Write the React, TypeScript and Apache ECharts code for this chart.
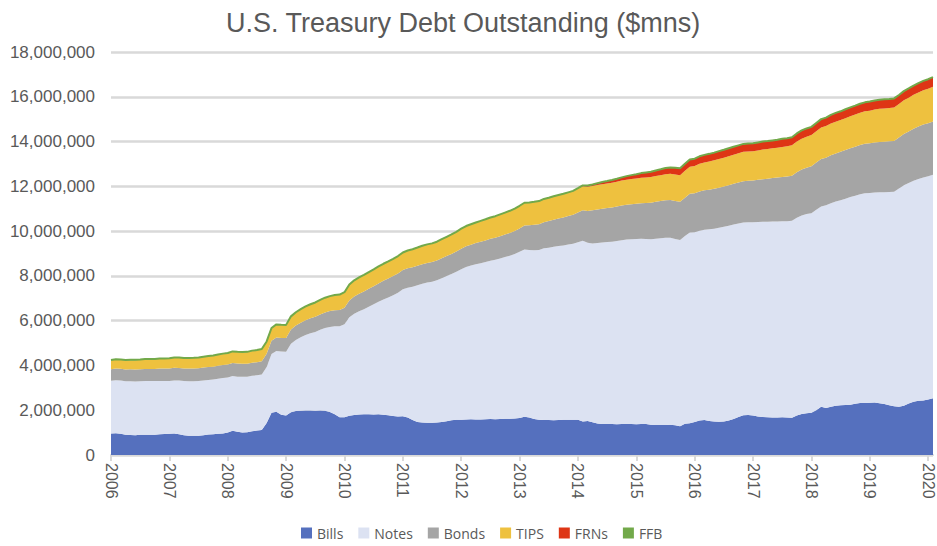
import React, { useEffect, useRef } from "react";
import * as echarts from "echarts";

// Tick labels (one per year); data are monthly from Jan 2006 to Feb 2020
const YEARS = ["2006", "2007", "2008", "2009", "2010", "2011", "2012", "2013", "2014", "2015", "2016", "2017", "2018", "2019", "2020"];
const MONTHS_IN_LAST_YEAR = 2;

const Y_MIN = 0;
const Y_MAX = 18000000;
const Y_STEP = 2000000;

// Values in $bn (×1000 = $mns), one row per year
const BILLS = [
  [955, 970, 945, 900, 895, 885, 905, 905, 900, 905, 925, 940],
  [950, 960, 930, 880, 860, 855, 865, 880, 920, 930, 945, 960],
  [1010, 1085, 1040, 1010, 1020, 1060, 1090, 1120, 1430, 1890, 1930, 1800],
  [1760, 1910, 1960, 1980, 1990, 1985, 1975, 1990, 1980, 1920, 1820, 1690],
  [1690, 1750, 1790, 1810, 1815, 1815, 1810, 1815, 1800, 1770, 1740, 1720],
  [1730, 1680, 1560, 1470, 1450, 1445, 1440, 1450, 1470, 1510, 1550, 1570],
  [1580, 1590, 1600, 1590, 1590, 1600, 1610, 1600, 1610, 1620, 1620, 1630],
  [1650, 1710, 1680, 1610, 1570, 1560, 1560, 1555, 1560, 1570, 1570, 1580],
  [1570, 1500, 1520, 1460, 1410, 1390, 1380, 1380, 1370, 1380, 1390, 1380],
  [1370, 1390, 1380, 1350, 1340, 1345, 1345, 1350, 1330, 1280, 1400, 1420],
  [1470, 1540, 1560, 1520, 1500, 1490, 1500, 1540, 1610, 1700, 1780, 1790],
  [1760, 1720, 1700, 1690, 1680, 1680, 1690, 1680, 1660, 1760, 1830, 1860],
  [1890, 2000, 2150, 2100, 2150, 2200, 2220, 2230, 2240, 2290, 2320, 2320],
  [2330, 2340, 2310, 2280, 2220, 2180, 2150, 2200, 2300, 2380, 2420, 2430],
  [2480, 2530],
];

const NOTES = [
  [2360, 2365, 2380, 2390, 2395, 2400, 2390, 2395, 2400, 2395, 2385, 2370],
  [2360, 2370, 2395, 2420, 2430, 2440, 2440, 2450, 2430, 2440, 2460, 2480],
  [2450, 2440, 2460, 2480, 2470, 2480, 2470, 2480, 2500, 2620, 2720, 2820],
  [2850, 3060, 3180, 3280, 3370, 3450, 3520, 3600, 3690, 3800, 3930, 4060],
  [4150, 4400, 4520, 4610, 4700, 4810, 4920, 5030, 5150, 5270, 5400, 5530],
  [5670, 5790, 5960, 6110, 6200, 6255, 6300, 6350, 6430, 6480, 6530, 6610],
  [6720, 6810, 6860, 6930, 6980, 7020, 7070, 7120, 7170, 7220, 7280, 7350],
  [7430, 7470, 7480, 7540, 7590, 7670, 7700, 7745, 7770, 7790, 7830, 7860],
  [7930, 8070, 7960, 7990, 8060, 8100, 8130, 8150, 8190, 8210, 8230, 8260],
  [8280, 8270, 8270, 8290, 8320, 8335, 8355, 8350, 8320, 8320, 8380, 8520],
  [8480, 8480, 8500, 8560, 8610, 8660, 8690, 8700, 8680, 8640, 8610, 8610],
  [8640, 8690, 8720, 8730, 8750, 8750, 8750, 8760, 8800, 8840, 8870, 8900],
  [8910, 8950, 8950, 9050, 9100, 9120, 9160, 9220, 9280, 9290, 9330, 9370],
  [9370, 9390, 9430, 9460, 9530, 9580, 9750, 9850, 9850, 9870, 9910, 9970],
  [9970, 9990],
];

const BONDS = [
  [510, 525, 525, 525, 535, 535, 535, 545, 545, 545, 555, 555],
  [555, 565, 565, 565, 570, 570, 570, 575, 575, 575, 580, 580],
  [580, 585, 585, 585, 585, 585, 585, 590, 590, 590, 600, 610],
  [615, 630, 640, 650, 660, 670, 680, 690, 700, 710, 720, 730],
  [740, 755, 770, 780, 790, 800, 810, 820, 830, 840, 850, 860],
  [865, 870, 870, 875, 875, 880, 880, 885, 890, 895, 900, 905],
  [915, 925, 935, 945, 955, 965, 975, 985, 995, 1005, 1015, 1025],
  [1040, 1070, 1100, 1130, 1150, 1170, 1190, 1210, 1230, 1250, 1270, 1290],
  [1330, 1360, 1420, 1480, 1500, 1510, 1520, 1530, 1540, 1550, 1555, 1560],
  [1570, 1590, 1610, 1630, 1650, 1660, 1680, 1690, 1700, 1710, 1715, 1730],
  [1740, 1750, 1760, 1770, 1780, 1790, 1800, 1810, 1820, 1830, 1840, 1850],
  [1860, 1880, 1900, 1920, 1940, 1960, 1980, 2000, 2010, 2030, 2050, 2070],
  [2100, 2110, 2120, 2130, 2140, 2150, 2160, 2170, 2180, 2190, 2200, 2210],
  [2220, 2230, 2240, 2250, 2260, 2270, 2280, 2290, 2300, 2320, 2340, 2360],
  [2370, 2380],
];

const TIPS = [
  [400, 405, 405, 410, 410, 415, 420, 425, 425, 430, 430, 435],
  [440, 445, 450, 455, 460, 465, 470, 475, 480, 485, 490, 495],
  [500, 505, 510, 515, 520, 525, 530, 535, 540, 560, 570, 575],
  [575, 580, 585, 595, 605, 615, 625, 635, 645, 655, 665, 675],
  [680, 700, 710, 720, 730, 735, 740, 745, 750, 755, 760, 765],
  [770, 780, 790, 800, 810, 815, 820, 830, 840, 850, 860, 870],
  [880, 890, 900, 910, 920, 930, 940, 950, 960, 970, 980, 990],
  [1000, 1005, 1010, 1015, 1020, 1025, 1030, 1035, 1040, 1045, 1050, 1055],
  [1060, 1070, 1080, 1085, 1090, 1095, 1100, 1105, 1110, 1115, 1120, 1125],
  [1130, 1135, 1140, 1145, 1150, 1155, 1160, 1170, 1180, 1190, 1200, 1210],
  [1220, 1240, 1250, 1260, 1270, 1280, 1290, 1295, 1300, 1305, 1310, 1310],
  [1310, 1315, 1320, 1325, 1330, 1335, 1340, 1350, 1360, 1370, 1380, 1390],
  [1395, 1400, 1405, 1410, 1415, 1420, 1420, 1425, 1430, 1435, 1440, 1450],
  [1460, 1470, 1480, 1490, 1490, 1495, 1500, 1505, 1510, 1515, 1520, 1530],
  [1540, 1550],
];

const FRNS = [
  [0, 0, 0, 0, 0, 0, 0, 0, 0, 0, 0, 0],
  [0, 0, 0, 0, 0, 0, 0, 0, 0, 0, 0, 0],
  [0, 0, 0, 0, 0, 0, 0, 0, 0, 0, 0, 0],
  [0, 0, 0, 0, 0, 0, 0, 0, 0, 0, 0, 0],
  [0, 0, 0, 0, 0, 0, 0, 0, 0, 0, 0, 0],
  [0, 0, 0, 0, 0, 0, 0, 0, 0, 0, 0, 0],
  [0, 0, 0, 0, 0, 0, 0, 0, 0, 0, 0, 0],
  [0, 0, 0, 0, 0, 0, 0, 0, 0, 0, 0, 0],
  [15, 30, 41, 56, 70, 85, 95, 110, 120, 135, 150, 165],
  [180, 195, 210, 225, 240, 255, 265, 275, 285, 295, 305, 310],
  [315, 320, 325, 330, 335, 340, 340, 345, 345, 345, 345, 345],
  [340, 345, 350, 345, 340, 345, 350, 350, 350, 350, 355, 355],
  [350, 360, 365, 370, 375, 380, 380, 385, 385, 390, 390, 390],
  [395, 395, 400, 400, 395, 390, 390, 395, 400, 405, 410, 410],
  [415, 420],
];

const FFB = [
  [14, 14, 14, 14, 14, 14, 13, 13, 13, 13, 13, 13],
  [13, 13, 13, 13, 13, 13, 13, 13, 13, 13, 13, 13],
  [13, 13, 13, 13, 12, 12, 12, 12, 12, 12, 12, 12],
  [12, 12, 12, 12, 12, 12, 12, 12, 12, 12, 12, 12],
  [12, 12, 12, 12, 12, 12, 12, 12, 12, 12, 12, 12],
  [12, 12, 12, 12, 12, 12, 12, 12, 12, 12, 12, 12],
  [12, 12, 12, 12, 12, 12, 12, 12, 12, 12, 12, 12],
  [12, 12, 12, 12, 12, 12, 12, 12, 12, 12, 12, 12],
  [12, 12, 12, 12, 11, 11, 11, 11, 11, 11, 11, 11],
  [11, 11, 11, 11, 11, 11, 11, 11, 11, 11, 11, 11],
  [11, 11, 11, 11, 11, 11, 11, 11, 11, 11, 11, 11],
  [11, 11, 11, 11, 11, 11, 11, 11, 11, 11, 11, 11],
  [11, 11, 11, 11, 11, 11, 11, 11, 11, 11, 11, 11],
  [11, 11, 11, 11, 11, 11, 11, 11, 11, 11, 11, 11],
  [11, 11],
];

const SERIES = [
  { name: "Bills", rows: BILLS, color: "#5570be" },
  { name: "Notes", rows: NOTES, color: "#dce2f2" },
  { name: "Bonds", rows: BONDS, color: "#a5a5a5" },
  { name: "TIPS", rows: TIPS, color: "#eec13f" },
  { name: "FRNs", rows: FRNS, color: "#de3515" },
  { name: "FFB", rows: FFB, color: "#72a94a" },
];

const CATEGORIES: string[] = YEARS.flatMap((y, i) => {
  const n = i === YEARS.length - 1 ? MONTHS_IN_LAST_YEAR : 12;
  return Array.from({ length: n }, (_, m) => `${y}-${String(m + 1).padStart(2, "0")}`);
});

const toMns = (rows: number[][]) => rows.flat().map((v) => v * 1000);

const TEXT = "#595959";
const SANS = "'Liberation Sans', Arial, sans-serif";

export default function App() {
  const ref = useRef<HTMLDivElement>(null);

  useEffect(() => {
    document.body.style.margin = "0";
    document.body.style.overflow = "hidden";
    if (!ref.current) return;
    const chart = echarts.init(ref.current, undefined, { renderer: "svg" });
    chart.setOption({
      animation: false,
      backgroundColor: "#ffffff",
      title: {
        text: "U.S. Treasury Debt Outstanding ($mns)",
        left: 221,
        top: 4,
        textStyle: { fontFamily: SANS, fontSize: 27, fontWeight: "normal", color: TEXT },
      },
      legend: {
        data: SERIES.map((s) => s.name),
        left: 296,
        top: 521,
        icon: "rect",
        itemWidth: 11,
        itemHeight: 11,
        itemGap: 15,
        textStyle: { fontFamily: "'Open Sans', sans-serif", fontSize: 14, color: TEXT },
      },
      grid: { left: 111, right: 4, top: 52, bottom: 91, containLabel: false },
      xAxis: {
        type: "category",
        data: CATEGORIES,
        boundaryGap: false,
        axisLine: { show: true, lineStyle: { color: "#d9d9d9", width: 2 } },
        axisTick: { show: true, interval: 11, length: 6, lineStyle: { color: "#d9d9d9", width: 2 } },
        axisLabel: {
          interval: 11,
          rotate: -90,
          margin: 8,
          formatter: (v: string) => v.slice(0, 4),
          fontFamily: SANS,
          fontSize: 16,
          color: TEXT,
        },
        splitLine: { show: false },
      },
      yAxis: {
        type: "value",
        min: Y_MIN,
        max: Y_MAX,
        interval: Y_STEP,
        axisLine: { show: false },
        axisTick: { show: false },
        axisLabel: {
          margin: 16,
          formatter: (v: number) => v.toLocaleString("en-US"),
          fontFamily: SANS,
          fontSize: 17,
          color: TEXT,
        },
        splitLine: { show: true, lineStyle: { color: "#d9d9d9", width: 2.5 } },
      },
      series: SERIES.map((s) => ({
        name: s.name,
        type: "line",
        stack: "debt",
        data: toMns(s.rows),
        symbol: "none",
        showSymbol: false,
        color: s.color,
        itemStyle: { color: s.color },
        lineStyle: s.name === "FFB" ? { width: 2, color: s.color } : { width: 0, color: s.color },
        areaStyle: { color: s.color, opacity: 1 },
        emphasis: { disabled: true },
        z: 2,
      })),
    });
    return () => chart.dispose();
  }, []);

  return <div ref={ref} style={{ position: "fixed", left: 0, top: 0, width: 937, height: 546 }} />;
}
